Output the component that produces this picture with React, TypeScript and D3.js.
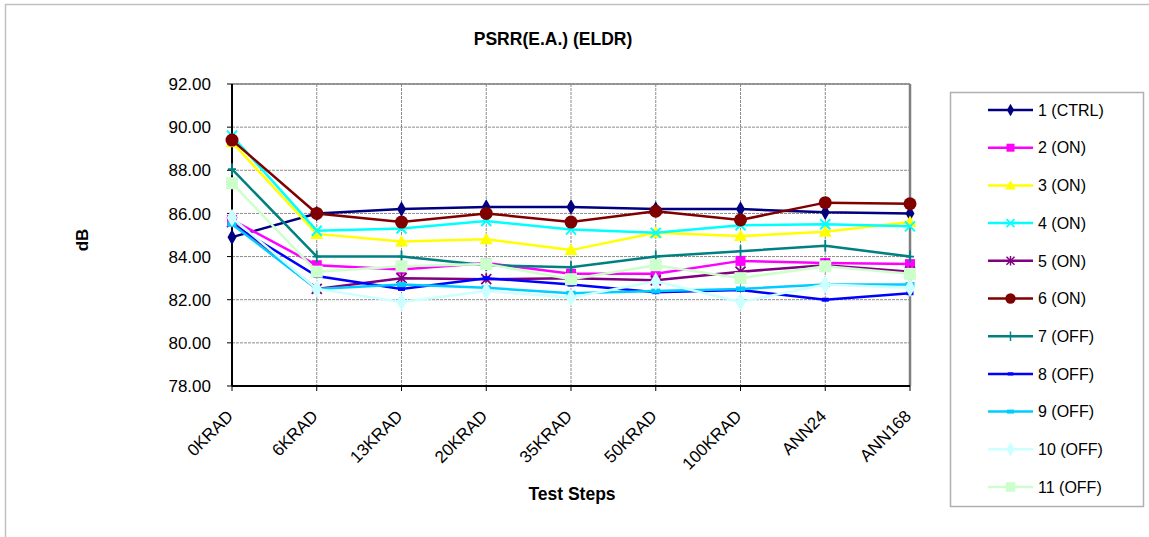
import * as d3 from "d3";
import React from "react";

const categories = ["0KRAD", "6KRAD", "13KRAD", "20KRAD", "35KRAD", "50KRAD", "100KRAD", "ANN24", "ANN168"];
const seriesNames = ["1 (CTRL)", "2 (ON)", "3 (ON)", "4 (ON)", "5 (ON)", "6 (ON)", "7 (OFF)", "8 (OFF)", "9 (OFF)", "10 (OFF)", "11 (OFF)"];
const yTicks = [78, 80, 82, 84, 86, 88, 90, 92];

const s1 = [84.9, 86.0, 86.2, 86.3, 86.3, 86.2, 86.2, 86.05, 86.0];
const s2 = [85.7, 83.6, 83.4, 83.7, 83.2, 83.2, 83.8, 83.7, 83.65];
const s3 = [89.3, 85.05, 84.7, 84.8, 84.3, 85.1, 84.95, 85.15, 85.6];
const s4 = [89.6, 85.2, 85.3, 85.65, 85.25, 85.1, 85.45, 85.5, 85.4];
const s5 = [85.6, 82.5, 83.0, 82.95, 83.0, 82.9, 83.3, 83.6, 83.3];
const s6 = [89.4, 86.0, 85.6, 86.0, 85.6, 86.1, 85.7, 86.5, 86.45];
const s7 = [88.05, 84.0, 84.0, 83.6, 83.5, 84.0, 84.25, 84.5, 84.0];
const s8 = [85.5, 83.1, 82.5, 83.0, 82.7, 82.35, 82.45, 82.0, 82.3];
const s9 = [85.5, 82.5, 82.7, 82.55, 82.3, 82.4, 82.5, 82.7, 82.7];
const s10 = [85.8, 82.5, 81.9, 82.4, 82.1, 82.85, 81.9, 82.7, 82.55];
const s11 = [87.4, 83.3, 83.55, 83.65, 82.95, 83.6, 83.0, 83.55, 83.2];

const allSeries = [s1, s2, s3, s4, s5, s6, s7, s8, s9, s10, s11];
const colors = ["#000080", "#FF00FF", "#FFFF00", "#00FFFF", "#800080", "#800000", "#008080", "#0000FF", "#00CCFF", "#CCFFFF", "#CCFFCC"];
const markers = ["diamond", "square", "triangle", "x", "star", "circle", "plus", "dash", "bigdash", "bigdiamond", "bigsquare"];

const FONT = "'Liberation Sans', Arial, sans-serif";

function Marker({ kind, color, x, y, s = 1 }: { kind: string; color: string; x: number; y: number; s?: number }) {
	const t = `translate(${x},${y}) scale(${s})`;
	switch (kind) {
		case "diamond":
			return <path transform={t} d={d3.symbol(d3.symbolDiamond, 70)()!} fill={color} />;
		case "bigdiamond":
			return <path transform={t} d={d3.symbol(d3.symbolDiamond, 95)()!} fill={color} />;
		case "square":
			return <rect transform={t} x={-5} y={-5} width={10} height={10} fill={color} />;
		case "bigsquare":
			return <rect transform={t} x={-6} y={-6} width={12} height={12} fill={color} />;
		case "triangle":
			return <path transform={t} d="M0,-6.5L6.5,5L-6.5,5Z" fill={color} />;
		case "circle":
			return <circle transform={t} r={6.5} fill={color} />;
		case "x":
			return <path transform={t} d="M-5,-5L5,5M-5,5L5,-5" stroke={color} strokeWidth={2} />;
		case "star":
			return <path transform={t} d="M-5,-5L5,5M-5,5L5,-5M0,-6L0,6" stroke={color} strokeWidth={1.8} />;
		case "plus":
			return <path transform={t} d="M0,-6L0,6M-4,0L4,0" stroke={color} strokeWidth={1.8} />;
		case "dash":
			return <rect transform={t} x={-3.5} y={-2} width={7} height={4} fill={color} />;
		case "bigdash":
			return <rect transform={t} x={-4.5} y={-2.5} width={9} height={5} fill={color} />;
		default:
			return null;
	}
}

export default function App() {
	React.useEffect(() => {
		document.body.style.margin = "0";
	}, []);

	const margins = { top: 84, right: 239, bottom: 151, left: 232 };
	const width = 1149;
	const height = 537;

	const x = d3.scalePoint<string>().domain(categories).range([margins.left, width - margins.right]);
	const y = d3.scaleLinear().domain([78, 92]).range([height - margins.bottom, margins.top]);

	const line = d3
		.line<number>()
		.x((_, i) => x(categories[i])!)
		.y((d) => y(d));

	const x0 = margins.left;
	const x1 = width - margins.right;
	const yTop = margins.top;
	const yBot = height - margins.bottom;

	return (
		<svg width={width} height={height} style={{ display: "block", fontFamily: FONT }}>
			<rect x={0} y={0} width={width} height={height} fill="#fff" />
			{/* outer chart border */}
			<rect x={5.5} y={4.5} width={1160} height={560} fill="none" stroke="#c0c0c0" strokeWidth={1.5} />

			{/* title */}
			<text x={553} y={45} textAnchor="middle" fontWeight="bold" fontSize={17.5}>
				PSRR(E.A.) (ELDR)
			</text>

			{/* grid */}
			{yTicks.map((t) => (
				<line key={"h" + t} x1={x0} x2={x1} y1={y(t)} y2={y(t)} stroke="#8c8c8c" strokeWidth={1} strokeDasharray="3,1" />
			))}
			{categories.map((c) => (
				<line key={"v" + c} x1={x(c)} x2={x(c)} y1={yTop} y2={yBot} stroke="#8c8c8c" strokeWidth={1} strokeDasharray="3,1" />
			))}

			{/* plot border */}
			<line x1={x0} x2={x1} y1={yTop} y2={yTop} stroke="#808080" strokeWidth={1.5} />
			<line x1={x1} x2={x1} y1={yTop} y2={yBot} stroke="#808080" strokeWidth={2.5} />

			{/* axes */}
			<line x1={x0} x2={x0} y1={yTop} y2={yBot} stroke="#000" strokeWidth={2} />
			<line x1={x0} x2={x1} y1={yBot} y2={yBot} stroke="#000" strokeWidth={2} />
			{yTicks.map((t) => (
				<g key={"yt" + t}>
					<line x1={x0 - 5} x2={x0} y1={y(t)} y2={y(t)} stroke="#000" strokeWidth={1} />
					<text x={211} y={y(t)} dy="0.36em" textAnchor="end" fontSize={17}>
						{t.toFixed(2)}
					</text>
				</g>
			))}
			{categories.map((c) => (
				<g key={"xt" + c}>
					<line x1={x(c)} x2={x(c)} y1={yBot} y2={yBot + 5} stroke="#000" strokeWidth={1} />
					<text
						transform={`translate(${x(c)! - 2},${yBot + 27}) rotate(-45)`}
						textAnchor="end"
						dy="0.35em"
						fontSize={17}
					>
						{c}
					</text>
				</g>
			))}

			{/* axis titles */}
			<text transform="translate(88,240) rotate(-90)" textAnchor="middle" fontWeight="bold" fontSize={17}>
				dB
			</text>
			<text x={572} y={500} textAnchor="middle" fontWeight="bold" fontSize={17.5}>
				Test Steps
			</text>

			{/* series */}
			{allSeries.map((vals, si) => (
				<g key={"s" + si}>
					<path d={line(vals)!} fill="none" stroke={colors[si]} strokeWidth={2.5} />
					{vals.map((v, i) => (
						<Marker key={i} kind={markers[si]} color={colors[si]} x={x(categories[i])!} y={y(v)} />
					))}
				</g>
			))}

			{/* legend */}
			<rect x={950.5} y={92.5} width={193} height={414} fill="#fff" stroke="#b0b0b0" strokeWidth={1.5} />
			{seriesNames.map((name, si) => {
				const ly = 110 + si * 37.7;
				return (
					<g key={"l" + si}>
						<line x1={988} x2={1033} y1={ly} y2={ly} stroke={colors[si]} strokeWidth={2.5} />
						<Marker kind={markers[si]} color={colors[si]} x={1010.5} y={ly} s={0.8} />
						<text x={1038} y={ly} dy="0.36em" fontSize={16}>
							{name}
						</text>
					</g>
				);
			})}
		</svg>
	);
}
